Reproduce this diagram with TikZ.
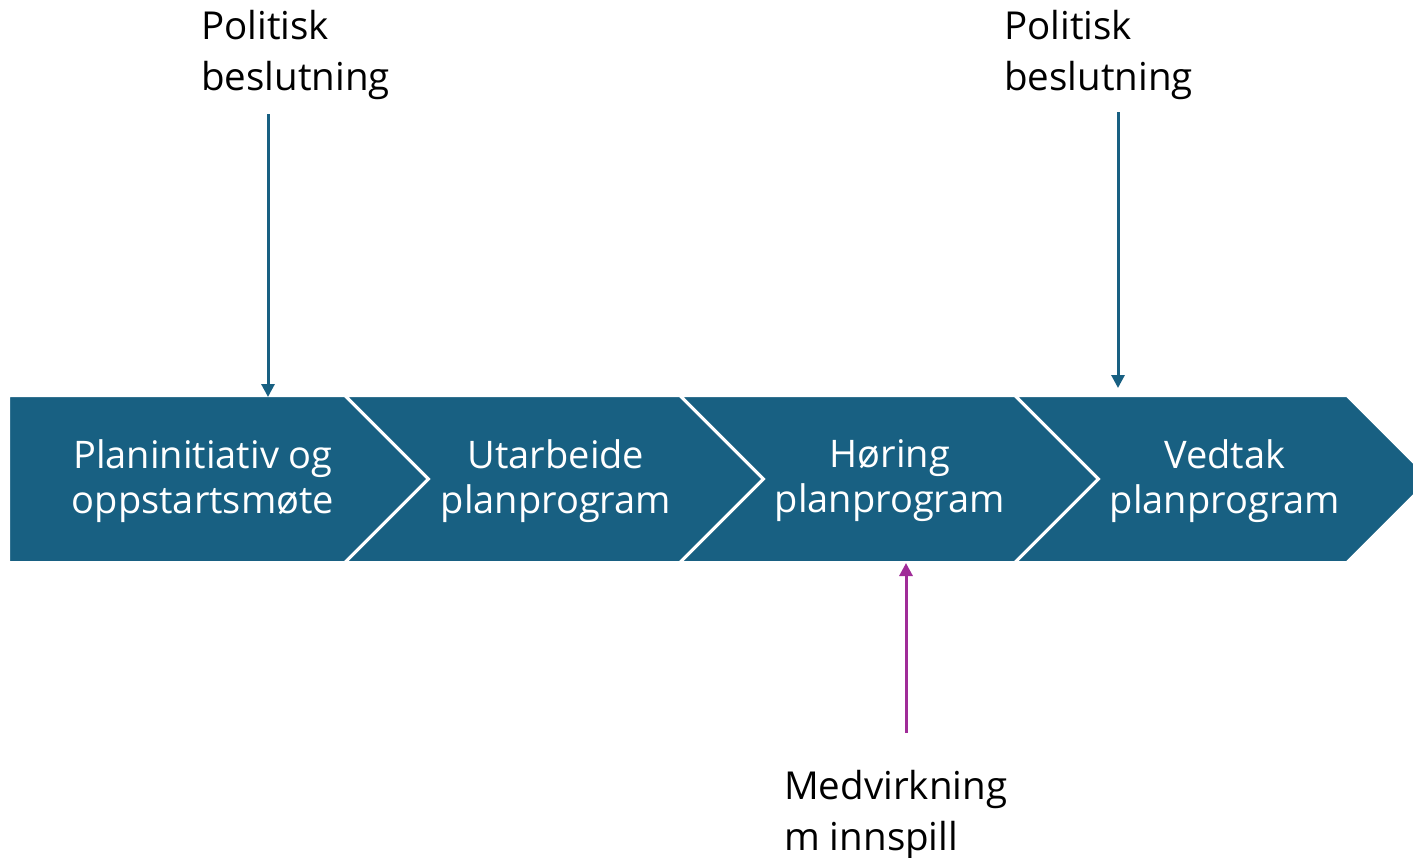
\documentclass[tikz,border=0pt]{standalone}
\usepackage{fontspec}
\setmainfont{Open Sans}
\usetikzlibrary{arrows.meta}
\definecolor{chevblue}{RGB}{24,96,130}
\definecolor{inpurple}{RGB}{160,44,152}
\begin{document}
\begin{tikzpicture}[x=1pt,y=-1pt,
  chev/.style={fill=chevblue, draw=white, line width=3pt, line join=miter},
  steptext/.style={text=white, align=center, inner sep=0pt, font=\fontsize{38}{45}\selectfont},
  sidelabel/.style={align=left, anchor=base west, inner sep=0pt, font=\fontsize{38.5}{51}\selectfont},
  decision/.style={draw=chevblue, line width=3pt, -{Triangle[width=13pt,length=13pt]}},
  inputarrow/.style={draw=inpurple, line width=3pt, -{Triangle[width=13pt,length=13pt]}}]
\useasboundingbox (0,0) rectangle (1413,857);
\clip (0,0) rectangle (1413,857);
% chevrons
\path[chev] (8.5,395.5) -- (345,395.5) -- (428.5,479) -- (345,562.5) -- (8.5,562.5) -- cycle;
\path[chev] (345,395.5) -- (680,395.5) -- (763.5,479) -- (680,562.5) -- (345,562.5) -- (428.5,479) -- cycle;
\path[chev] (680,395.5) -- (1015,395.5) -- (1098.5,479) -- (1015,562.5) -- (680,562.5) -- (763.5,479) -- cycle;
\path[chev] (1015,395.5) -- (1347,395.5) -- (1430.5,479) -- (1347,562.5) -- (1015,562.5) -- (1098.5,479) -- cycle;
% step texts
\node[steptext] (s1) at (203,481) {Planinitiativ og\\oppstartsmøte};
\node[steptext] (s2) at (556,481) {Utarbeide\\planprogram};
\node[steptext] (s3) at (890,481) {Høring\\planprogram};
\node[steptext] (s4) at (1225,481) {Vedtak\\planprogram};
% side labels (anchor = baseline of last line)
\node[sidelabel] (p1) at (201,90.5) {Politisk\\beslutning};
\node[sidelabel] (p2) at (1004,90.5) {Politisk\\beslutning};
\node[sidelabel] (m1) at (784,850.5) {Medvirkning\\m innspill};
% arrow ends
\coordinate (a1s) at (268,114);
\coordinate (a1e) at (268,397);
\coordinate (a2s) at (1118,112);
\coordinate (a2e) at (1118,388);
\coordinate (a3s) at (906,733);
\coordinate (a3e) at (906,563);
\draw[decision] (a1s) -- (a1e);
\draw[decision] (a2s) -- (a2e);
\draw[inputarrow] (a3s) -- (a3e);
\end{tikzpicture}
\end{document}
